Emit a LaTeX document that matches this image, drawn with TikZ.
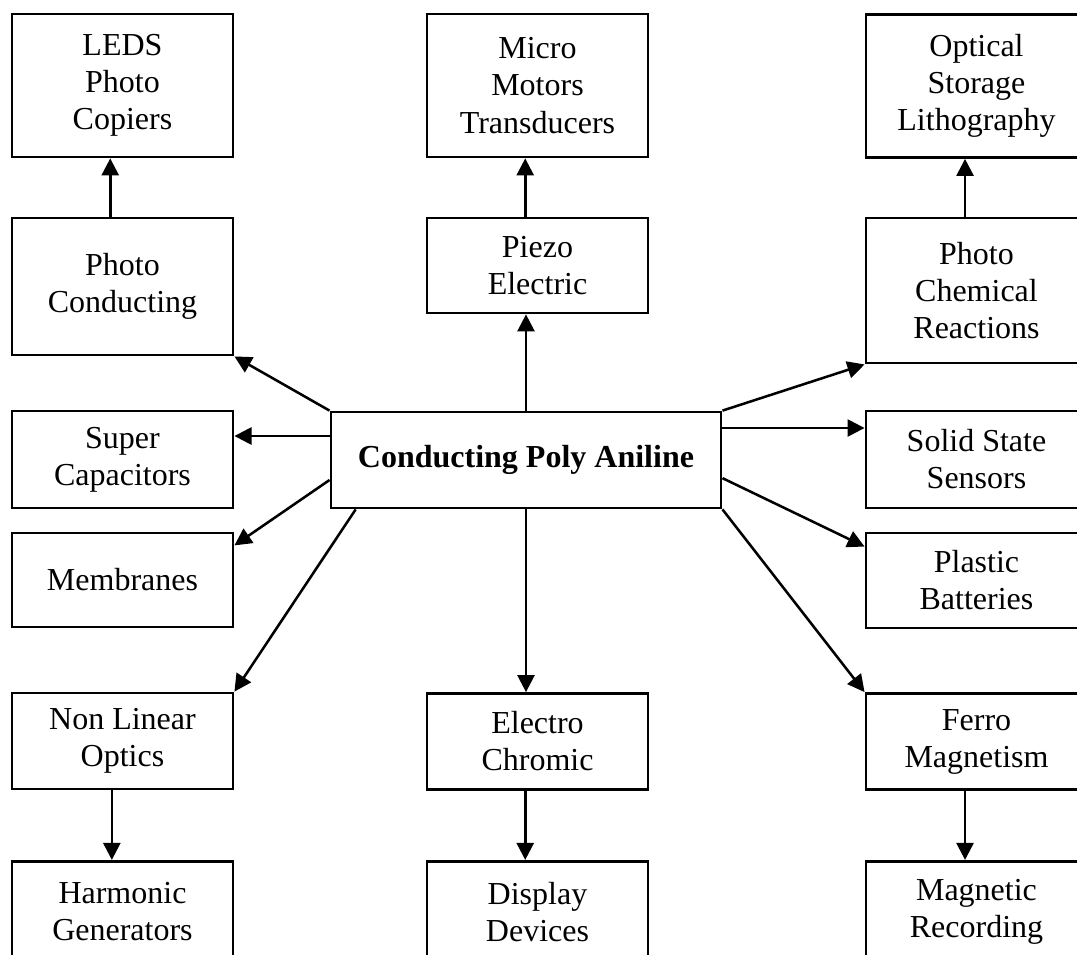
\documentclass[tikz,border=0pt]{standalone}
\usepackage{fontspec}
\setmainfont{Liberation Serif}
\usetikzlibrary{arrows.meta}
\def\bw{82.9pt}

\begin{document}
\begin{tikzpicture}[x=0.375pt,y=-0.375pt,
	>={Triangle[length=6.4pt,width=6.4pt]},
	box/.style={draw,line width=1.05pt,minimum width=\bw,inner sep=1pt,align=center,
		font=\fontsize{12}{13.9}\selectfont},
	link/.style={->,line width=0.95pt}]
\useasboundingbox (0,0) rectangle (1077,955);
% top row
\node[box,minimum height=53.6pt] (leds) at (122.5,85.5) {LEDS\\Photo\\Copiers};
\node[box,minimum height=53.6pt] (micro) at (537.5,85.5) {Micro\\Motors\\Transducers};
\node[box,minimum height=53.6pt] (optic) at (976.5,86) {Optical\\Storage\\Lithography};
% second row
\node[box,minimum height=51.4pt] (photo) at (122.5,286.5) {Photo\\Conducting};
\node[box,minimum height=35.6pt] (piezo) at (537.5,265.5) {Piezo\\Electric};
\node[box,minimum height=54.4pt] (chem) at (976.5,290.5) {Photo\\Chemical\\Reactions};
% middle
\node[box,minimum height=36.4pt] (super) at (122.5,459.5) {Super\\Capacitors};
\node[box,minimum width=146.3pt,minimum height=36pt,font=\fontsize{12}{13.9}\selectfont\bfseries] (cpa) at (526,460) {Conducting Poly Aniline};
\node[box,minimum height=36.4pt] (solid) at (976.5,459.5) {Solid State\\Sensors};
\node[box,minimum height=35.3pt] (memb) at (122.5,580) {Membranes};
\node[box,minimum height=35.6pt] (plast) at (976.5,580.5) {Plastic\\Batteries};
% lower rows
\node[box,minimum height=36pt] (nlo) at (122.5,741) {Non Linear\\Optics};
\node[box,minimum height=36pt] (electro) at (537.5,741.5) {Electro\\Chromic};
\node[box,minimum height=36pt] (ferro) at (976.5,741.5) {Ferro\\Magnetism};
\node[box,minimum height=38pt] (harm) at (122.5,912) {Harmonic\\Generators};
\node[box,minimum height=38pt] (disp) at (537.5,912) {Display\\Devices};
\node[box,minimum height=38pt] (magrec) at (976.5,912) {Magnetic\\Recording};

% vertical chains
\draw[link] ([xshift=-4.6pt]photo.north) -- ([xshift=-4.6pt]leds.south);
\draw[link] ([xshift=-4.6pt]piezo.north) -- ([xshift=-4.6pt]micro.south);
\draw[link] ([xshift=-4.3pt]chem.north) -- ([xshift=-4.3pt]optic.south);
\draw[link] (cpa.north) -- (cpa.north |- piezo.south);
\draw[link] (cpa.south) -- (cpa.south |- electro.north);
\draw[link] ([xshift=-4pt]nlo.south) -- ([xshift=-4pt]harm.north);
\draw[link] ([xshift=-4.6pt]electro.south) -- ([xshift=-4.6pt]disp.north);
\draw[link] ([xshift=-4.3pt]ferro.south) -- ([xshift=-4.3pt]magrec.north);

% spokes from the centre box
\coordinate (lsup) at ([yshift=9pt]cpa.west);
\coordinate (lmem) at ([yshift=-7.5pt]cpa.west);
\coordinate (lnlo) at ([xshift=9.8pt]cpa.south west);
\coordinate (rsol) at ([yshift=12pt]cpa.east);
\coordinate (rpla) at ([yshift=-6.8pt]cpa.east);
\draw[link] (cpa.north west) -- (photo.south east);
\draw[link] (lsup) -- (lsup -| super.east);
\draw[link] (lmem) -- ([yshift=-5.2pt]memb.north east);
\draw[link] (lnlo) -- (nlo.north east);
\draw[link] (cpa.north east) -- (chem.south west);
\draw[link] (rsol) -- (rsol -| solid.west);
\draw[link] (rpla) -- ([yshift=-5.6pt]plast.north west);
\draw[link] (cpa.south east) -- (ferro.north west);
\end{tikzpicture}
\end{document}
